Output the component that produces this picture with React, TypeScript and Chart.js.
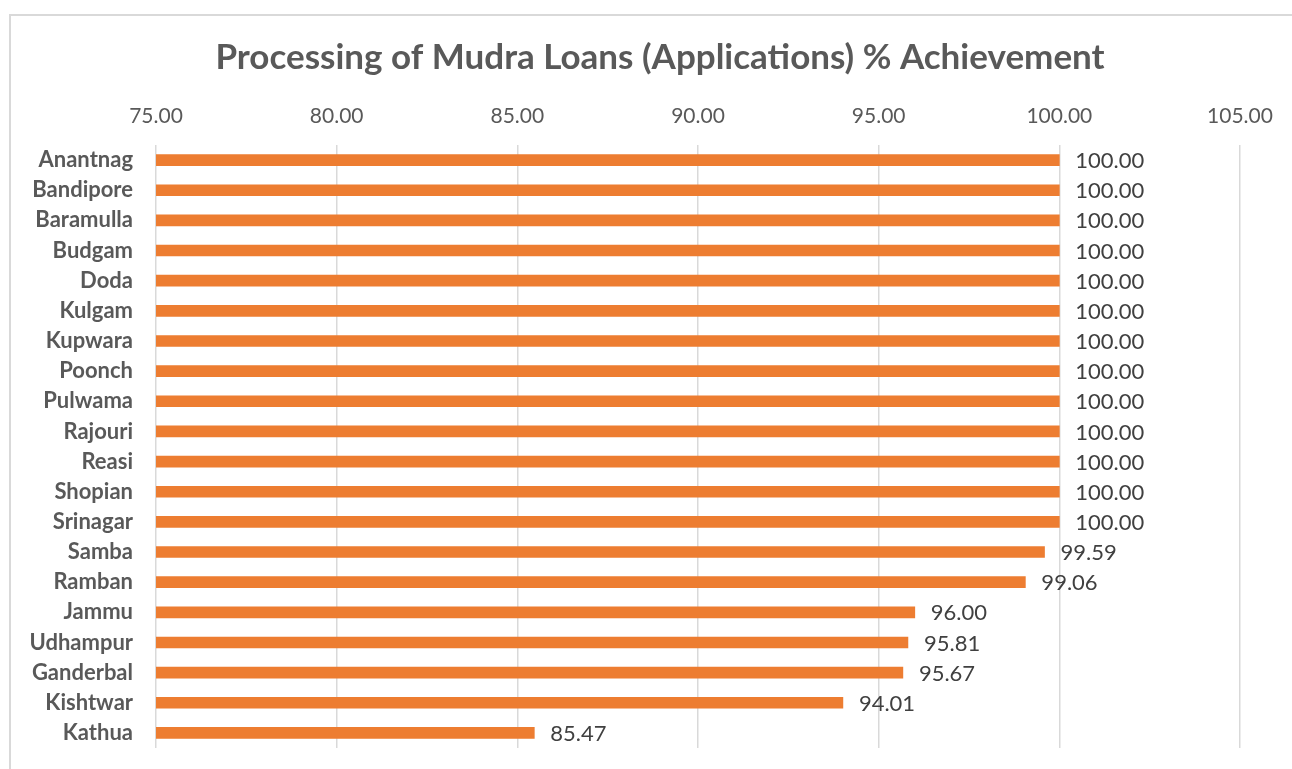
import React, { useEffect, useRef } from "react";
import { Chart, registerables } from "chart.js";

Chart.register(...registerables);

const TITLE = "Processing of Mudra Loans (Applications) % Achievement";
const districts = [
  "Anantnag", "Bandipore", "Baramulla", "Budgam", "Doda", "Kulgam", "Kupwara",
  "Poonch", "Pulwama", "Rajouri", "Reasi", "Shopian", "Srinagar", "Samba",
  "Ramban", "Jammu", "Udhampur", "Ganderbal", "Kishtwar", "Kathua",
];
const achievement = [
  100, 100, 100, 100, 100, 100, 100, 100, 100, 100, 100, 100, 100,
  99.59, 99.06, 96.0, 95.81, 95.67, 94.01, 85.47,
];
const axisMin = 75;
const axisMax = 105;
const axisStep = 5;

const FONT = "Lato, 'Open Sans', sans-serif";

const valueLabels = {
  id: "valueLabels",
  afterDatasetsDraw(chart: any) {
    const ctx = chart.ctx;
    const meta = chart.getDatasetMeta(0);
    const data = chart.data.datasets[0].data as number[];
    ctx.save();
    ctx.font = `22px ${FONT}`;
    ctx.fillStyle = "#404040";
    ctx.textAlign = "left";
    ctx.textBaseline = "middle";
    meta.data.forEach((bar: any, i: number) => {
      ctx.fillText(data[i].toFixed(2), bar.x + 16, bar.y + 1);
    });
    ctx.restore();
  },
};

const chartTitle = {
  id: "chartTitle",
  afterDraw(chart: any) {
    const ctx = chart.ctx;
    ctx.save();
    ctx.font = `bold 35px ${FONT}`;
    ctx.fillStyle = "#595959";
    ctx.textAlign = "center";
    ctx.textBaseline = "middle";
    ctx.fillText(TITLE, 660, 58);
    ctx.restore();
  },
};

export default function App() {
  const ref = useRef<HTMLCanvasElement | null>(null);
  useEffect(() => {
    document.body.style.margin = "0";
    const canvas = ref.current!;
    const chart = new Chart(canvas, {
      type: "bar",
      data: {
        labels: districts,
        datasets: [
          {
            data: achievement,
            backgroundColor: "#ED7D31",
            borderWidth: 0,
            barThickness: 11,
          },
        ],
      },
      options: {
        indexAxis: "y",
        responsive: false,
        animation: false,
        layout: { padding: { left: 0, right: 52, top: 79, bottom: 21 } },
        plugins: {
          legend: { display: false },
          tooltip: { enabled: false },
          title: { display: false },
        },
        scales: {
          x: {
            position: "top",
            min: axisMin,
            max: axisMax,
            border: { display: false },
            grid: { color: "#d9d9d9", lineWidth: 1.5, drawTicks: false },
            ticks: {
              stepSize: axisStep,
              padding: 16,
              color: "#595959",
              font: { family: FONT, size: 21 },
              callback: (v: any) => Number(v).toFixed(2),
            },
            afterFit: (scale: any) => {
              scale.height = 66;
              scale.paddingLeft = 0;
              scale.paddingRight = 0;
            },
          },
          y: {
            border: { display: false },
            grid: { display: false, drawTicks: false },
            ticks: {
              padding: 23,
              color: "#595959",
              font: { family: FONT, size: 22, weight: "bold" },
            },
            afterFit: (scale: any) => {
              scale.width = 156;
              scale.paddingTop = 0;
              scale.paddingBottom = 0;
            },
          },
        },
      },
      plugins: [valueLabels, chartTitle],
    });
    return () => chart.destroy();
  }, []);

  return (
    <div style={{ position: "relative", width: 1292, height: 769, overflow: "hidden", background: "#fff" }}>
      <div
        style={{
          position: "absolute",
          left: 9,
          top: 14,
          width: 1400,
          height: 900,
          border: "2px solid #d9d9d9",
          boxSizing: "border-box",
        }}
      />
      <canvas
        ref={ref}
        width={1292}
        height={769}
        style={{ position: "absolute", left: 0, top: 0, width: 1292, height: 769 }}
      />
    </div>
  );
}
